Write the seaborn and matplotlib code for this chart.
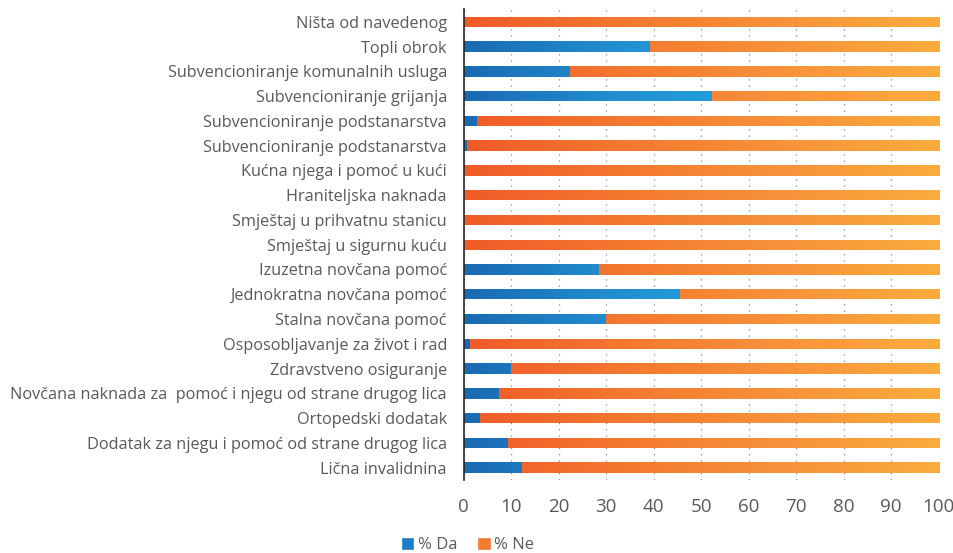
import numpy as np
import pandas as pd
import matplotlib
matplotlib.use('Agg')
import matplotlib.pyplot as plt
from matplotlib.colors import LinearSegmentedColormap
from matplotlib.patches import Patch
import seaborn as sns

## data, top to bottom
categories = [
    'Ništa od navedenog',
    'Topli obrok',
    'Subvencioniranje komunalnih usluga',
    'Subvencioniranje grijanja',
    'Subvencioniranje podstanarstva',
    'Subvencioniranje podstanarstva',
    'Kućna njega i pomoć u kući',
    'Hraniteljska naknada',
    'Smještaj u prihvatnu stanicu',
    'Smještaj u sigurnu kuću',
    'Izuzetna novčana pomoć',
    'Jednokratna novčana pomoć',
    'Stalna novčana pomoć',
    'Osposobljavanje za život i rad',
    'Zdravstveno osiguranje',
    'Novčana naknada za  pomoć i njegu od strane drugog lica',
    'Ortopedski dodatak',
    'Dodatak za njegu i pomoć od strane drugog lica',
    'Lična invalidnina',
]
pct_da = [0, 39, 22.2, 52, 2.7, 0.5, 0, 0, 0, 0, 28.3, 45.3, 29.8, 1.1, 9.8, 7.2, 3.2, 9.1, 12.1]
pct_ne = [100 - v for v in pct_da]

## row index as y (two rows share the same label)
df = pd.DataFrame({'row': range(len(categories)), 'da': pct_da, 'ne': pct_ne})
df['total'] = df['da'] + df['ne']

sns.set_style('white')
plt.rcParams['font.family'] = ['Open Sans', 'DejaVu Sans']

fig = plt.figure(figsize=(9.54, 5.53), dpi=100)
ax = fig.add_axes([0.486, 0.132, 0.498, 0.851])

sns.barplot(data=df, x='total', y='row', orient='h', color='#f05a28', width=0.42, ax=ax)
n_ne = len(ax.patches)
sns.barplot(data=df, x='da', y='row', orient='h', color='#1b6db4', width=0.42, ax=ax)

ax.set_xlim(0, 100)
ylim = ax.get_ylim()

## gradient fills, like the excel original
blue_cm = LinearSegmentedColormap.from_list('b', ['#1a6ab2', '#2290d2', '#22a7e0', '#22a7e0'])
orange_cm = LinearSegmentedColormap.from_list('o', ['#f05a28', '#f4782f', '#f7923a', '#faac3e'])
grad = np.linspace(0, 1, 256).reshape(1, -1)
for i, p in enumerate(ax.patches):
    cm = orange_cm if i < n_ne else blue_cm
    if p.get_width() <= 0:
        continue
    im = ax.imshow(grad, cmap=cm, aspect='auto', extent=[0, 100, ylim[0], ylim[1]],
                   zorder=p.get_zorder(), interpolation='bilinear')
    im.set_clip_path(p)
    p.set_facecolor('none')
    p.set_edgecolor('none')
ax.set_ylim(ylim)

ax.set_yticks(range(len(categories)))
ax.set_yticklabels(categories)
ax.set_xticks(range(0, 101, 10))
ax.xaxis.grid(True, linestyle=(0, (1, 4)), color='#8c8c8c', linewidth=0.9)
ax.set_axisbelow(True)
for s in ['top', 'right', 'bottom']:
    ax.spines[s].set_visible(False)
ax.spines['left'].set_color('#262626')
ax.spines['left'].set_linewidth(1.2)
ax.spines['left'].set_zorder(5)
ax.tick_params(axis='x', length=0, pad=13, labelsize=13.5, labelcolor='#595959')
ax.tick_params(axis='y', length=0, pad=12, labelsize=11.7, labelcolor='#595959')
ax.set_xlabel('')
ax.set_ylabel('')

handles = [Patch(facecolor='#1b7bc4', label='% Da'), Patch(facecolor='#f47a30', label='% Ne')]
fig.legend(handles=handles, loc='center', bbox_to_anchor=(0.49, 0.014), ncol=2, frameon=False,
           fontsize=12, labelcolor='#595959', handlelength=0.8, handleheight=0.8,
           handletextpad=0.2, columnspacing=1.2)

fig.savefig('out.png', dpi=100)
